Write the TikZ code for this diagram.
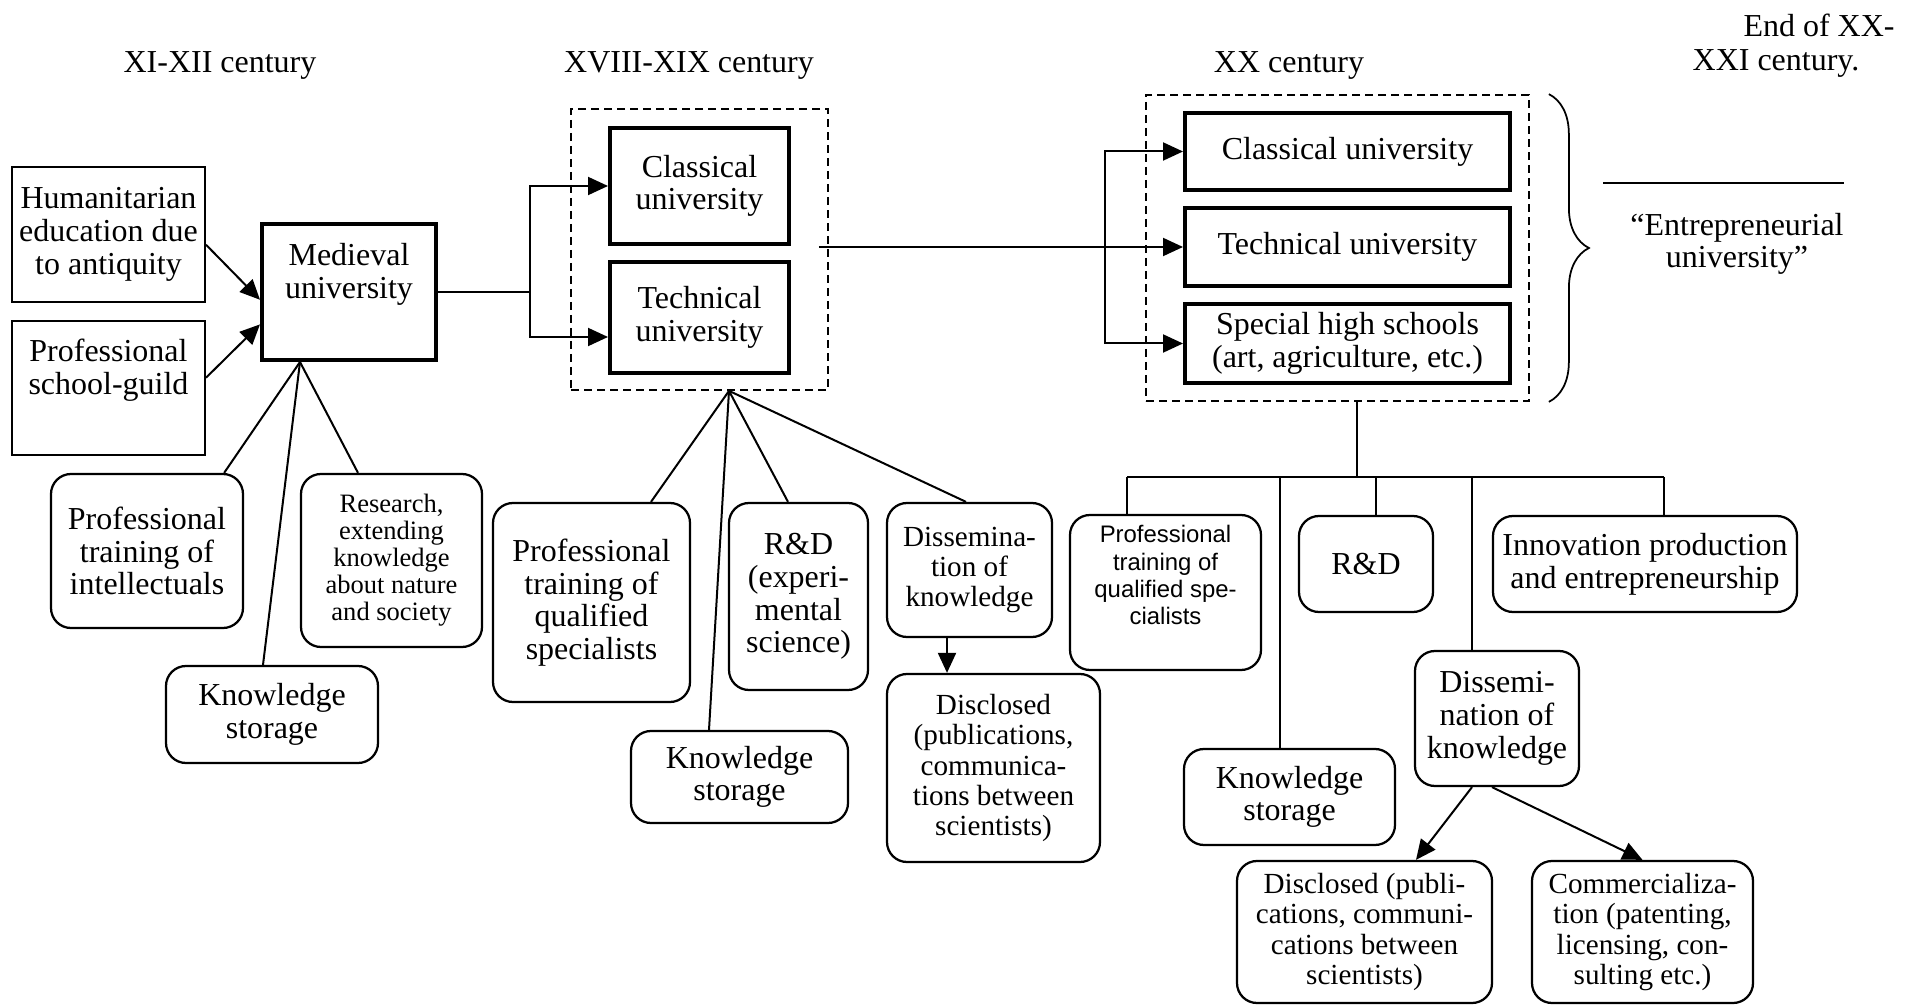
\documentclass[tikz,border=0pt]{standalone}
\usepackage{fontspec}
\setmainfont{Liberation Serif}
\newfontfamily\sansfnt{Liberation Sans}
\usetikzlibrary{arrows.meta,decorations.pathreplacing}
\tikzstyle{thickbox} = [draw=black, line width=0.8mm, rectangle, align=center, inner sep=0pt]
\tikzstyle{plainbox} = [draw=black, line width=0.4mm, rectangle, align=center, inner sep=0pt]
\tikzstyle{roundbox} = [draw=black, line width=0.45mm, rectangle, rounded corners=4mm, align=center, inner sep=0pt]
\tikzstyle{groupbox} = [draw=black, line width=0.35mm, dash pattern=on 1.6mm off 1mm, rectangle, inner sep=0pt]
\tikzstyle{link} = [line width=0.4mm]
\tikzstyle{arr} = [line width=0.4mm, -{Triangle[length=4mm,width=3.6mm]}]
\newcommand{\bigtxt}{\fontsize{18.2}{18.6}\selectfont}
\newcommand{\midtxt}{\fontsize{16.6}{17.2}\selectfont}
\newcommand{\smalltxt}{\fontsize{15.1}{15.4}\selectfont}
\newcommand{\sanstxt}{\sansfnt\fontsize{13.6}{15.4}\selectfont}

\begin{document}
\begin{tikzpicture}[x=0.2mm, y=-0.2mm, font=\bigtxt]
\useasboundingbox (0,0) rectangle (1906,1005);

% periods
\node (t1) at (220,65) {XI-XII century};
\node (t2) at (689,65) {XVIII-XIX century};
\node (t3) at (1289,65) {XX century};
\node (t4a) at (1819,25) {End of XX-};
\node (t4b) at (1776,63) {XXI century.};

% XI-XII
\node[plainbox, minimum width=38.6mm, minimum height=27mm] (hum) at (108.5,234.5) {Humanitarian\\education due\\to antiquity};
\node[plainbox, minimum width=38.6mm, minimum height=26.8mm] (guild) at (108.5,388) {Professional\\school-guild\\\strut};
\node[thickbox, minimum width=34.8mm, minimum height=27.2mm] (medieval) at (349,292) {Medieval\\university\\\strut};
\node[roundbox, minimum width=38.4mm, minimum height=30.8mm] (profint) at (147,551) {Professional\\training of\\intellectuals};
\node[roundbox, font=\smalltxt, minimum width=36.2mm, minimum height=34.6mm] (research) at (391.5,560.5) {Research,\\extending\\knowledge\\about nature\\and society};
\node[roundbox, minimum width=42.4mm, minimum height=19.4mm] (storeA) at (272,714.5) {Knowledge\\storage};

% XVIII-XIX
\node[groupbox, minimum width=51.4mm, minimum height=56.2mm] (grpA) at (699.5,249.5) {};
\node[thickbox, minimum width=35.8mm, minimum height=23.2mm] (classA) at (699.5,186) {Classical\\university};
\node[thickbox, minimum width=35.8mm, minimum height=22.2mm] (techA) at (699.5,317.5) {Technical\\university};
\node[roundbox, minimum width=39.4mm, minimum height=39.8mm] (profqA) at (591.5,602.5) {Professional\\training of\\qualified\\specialists};
\node[roundbox, minimum width=27.8mm, minimum height=37.4mm] (rdA) at (798.5,596.5) {R\&D\\(experi-\\mental\\science)};
\node[roundbox, minimum width=43.4mm, minimum height=18.4mm] (storeB) at (739.5,777) {Knowledge\\storage};
\node[roundbox, font=\midtxt, minimum width=33mm, minimum height=26.8mm] (dissA) at (969.5,570) {Dissemina-\\tion of\\knowledge};
\node[roundbox, font=\midtxt, minimum width=42.6mm, minimum height=37.6mm] (discA) at (993.5,768) {Disclosed\\(publications,\\communica-\\tions between\\scientists)};

% XX
\node[groupbox, minimum width=76.6mm, minimum height=61.2mm] (grpB) at (1337.5,248) {};
\node[thickbox, minimum width=65mm, minimum height=15.4mm] (classB) at (1347.5,151.5) {Classical university};
\node[thickbox, minimum width=65mm, minimum height=15.6mm] (techB) at (1347.5,247) {Technical university};
\node[thickbox, minimum width=65mm, minimum height=15.8mm] (specB) at (1347.5,343.5) {Special high schools\\(art, agriculture, etc.)};
\node[roundbox, font=\sanstxt, minimum width=38.2mm, minimum height=31mm] (profqB) at (1165.5,592.5) {Professional\\training of\\qualified spe-\\cialists\\\strut};
\node[roundbox, minimum width=26.8mm, minimum height=19.2mm] (rdB) at (1366,564) {R\&D};
\node[roundbox, minimum width=60.8mm, minimum height=19.2mm] (innov) at (1645,564) {Innovation production\\and entrepreneurship};
\node[roundbox, minimum width=42.2mm, minimum height=19.2mm] (storeC) at (1289.5,797) {Knowledge\\storage};
\node[roundbox, minimum width=32.8mm, minimum height=27mm] (dissB) at (1497,718.5) {Dissemi-\\nation of\\knowledge};
\node[roundbox, font=\midtxt, minimum width=51mm, minimum height=28.4mm] (discB) at (1364.5,932) {Disclosed (publi-\\cations, communi-\\cations between\\scientists)};
\node[roundbox, font=\midtxt, minimum width=44.2mm, minimum height=28.4mm] (commB) at (1642.5,932) {Commercializa-\\tion (patenting,\\licensing, con-\\sulting etc.)};

% end of XX - XXI
\draw[line width=0.35mm, decorate, decoration={brace, amplitude=8mm}] ([xshift=3.8mm]grpB.north east) -- ([xshift=3.8mm]grpB.south east);
\draw[link] (1603,183) -- (1844,183);
\node[align=center] (entre) at (1737,244) {“Entrepreneurial\\university”};

% connectors
\draw[arr] (hum.354) -- (medieval.185);
\draw[arr] (guild.6) -- (medieval.200);
\coordinate (mfan) at ([xshift=-9.8mm]medieval.south);
\draw[link] (mfan) -- ([xshift=-4mm]profint.north east);
\draw[link] (mfan) -- ([xshift=-1.8mm]storeA.north);
\draw[link] (mfan) -- ([xshift=-6.7mm]research.north);

\coordinate (forkA) at ([xshift=-15.6mm]classA.west);
\draw[link] (medieval.east) -- (medieval.east -| forkA);
\draw[arr] (medieval.east -| forkA) |- (classA.west);
\draw[arr] (medieval.east -| forkA) |- ([yshift=-3.9mm]techA.west);

\coordinate (afan) at ([xshift=5.9mm]grpA.south);
\draw[link] (afan) -- ([xshift=11.9mm]profqA.north);
\draw[link] (afan) -- ([xshift=-6.1mm]storeB.north);
\draw[link] (afan) -- ([xshift=-2.1mm]rdA.north);
\draw[link] (afan) -- ([xshift=-0.7mm]dissA.north);
\coordinate (dA) at ([xshift=-4.5mm]dissA.south);
\draw[arr] (dA) -- (dA |- discA.north);

\coordinate (lstart) at ([xshift=-2mm]grpA.east);
\draw[arr] (lstart |- techB.west) -- (techB.west);
\coordinate (forkB) at ([xshift=-15.6mm]techB.west);
\draw[arr] (forkB) |- (classB.west);
\draw[arr] (forkB) |- (specB.west);

\coordinate (bfan) at ([xshift=3.9mm]grpB.south);
\coordinate (bbar) at ([yshift=-15mm]bfan);
\draw[link] (bfan) -- (bbar);
\coordinate (tq) at ([xshift=-7.7mm]profqB.north);
\coordinate (ts) at ([xshift=-1.9mm]storeC.north);
\coordinate (tr) at ([xshift=2mm]rdB.north);
\coordinate (td) at ([xshift=-5mm]dissB.north);
\coordinate (ti) at ([xshift=3.8mm]innov.north);
\draw[link] (tq |- bbar) -- (ti |- bbar);
\foreach \tp in {tq,ts,tr,td,ti} \draw[link] (\tp |- bbar) -- (\tp);
\draw[arr] ([xshift=-5mm]dissB.south) -- ([xshift=10.3mm]discB.north);
\draw[arr] ([xshift=-1mm]dissB.south) -- (commB.north);
\end{tikzpicture}
\end{document}
